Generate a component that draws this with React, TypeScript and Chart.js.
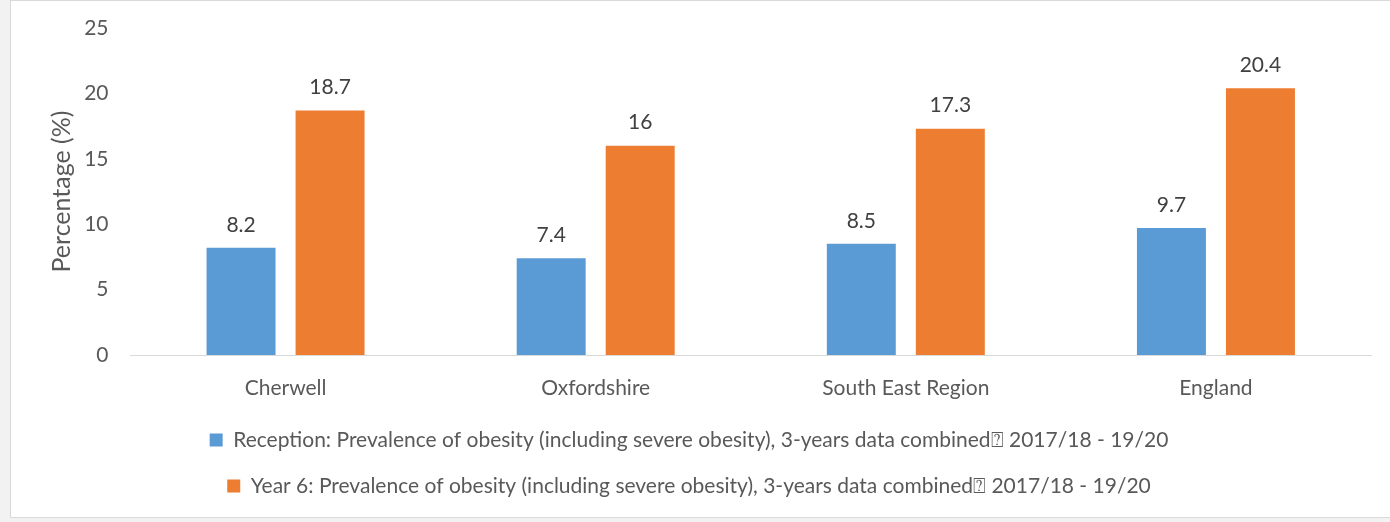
import React, { useEffect, useRef } from "react";
import { Chart, registerables } from "chart.js";

Chart.register(...registerables);

const categories = ["Cherwell", "Oxfordshire", "South East Region", "England"];
const receptionValues = [8.2, 7.4, 8.5, 9.7];
const year6Values = [18.7, 16, 17.3, 20.4];
const seriesNames = [
  "Reception: Prevalence of obesity (including severe obesity), 3-years data combined\u2370 2017/18 - 19/20",
  "Year 6: Prevalence of obesity (including severe obesity), 3-years data combined\u2370 2017/18 - 19/20",
];
const yTicks = [0, 5, 10, 15, 20, 25];

const FONT = "Lato, 'Open Sans', sans-serif";

const dataLabelPlugin = {
  id: "dataLabels",
  afterLayout(chart: any) {
    if (chart.legend) {
      chart.legend.left -= 20;
      chart.legend.right -= 20;
    }
  },
  afterDatasetsDraw(chart: any) {
    const ctx = chart.ctx;
    ctx.save();
    ctx.font = `21px ${FONT}`;
    ctx.fillStyle = "#404040";
    ctx.textAlign = "center";
    ctx.textBaseline = "middle";
    chart.data.datasets.forEach((ds: any, i: number) => {
      const meta = chart.getDatasetMeta(i);
      meta.data.forEach((el: any, j: number) => {
        ctx.fillText(String(ds.data[j]), el.x, el.y - 23);
      });
    });
    ctx.restore();
  },
};

export default function App() {
  const ref = useRef<HTMLCanvasElement>(null);
  useEffect(() => {
    if (!ref.current) return;
    const chart = new Chart(ref.current, {
      type: "bar",
      data: {
        labels: categories,
        datasets: [
          {
            label: seriesNames[0],
            data: receptionValues,
            backgroundColor: "#5B9BD5",
            categoryPercentage: 0.574,
            barPercentage: 0.775,
          },
          {
            label: seriesNames[1],
            data: year6Values,
            backgroundColor: "#ED7D31",
            categoryPercentage: 0.574,
            barPercentage: 0.775,
          },
        ],
      },
      options: {
        animation: false,
        responsive: true,
        maintainAspectRatio: false,
        devicePixelRatio: 1,
        layout: { padding: { left: 36, right: 20, top: 27, bottom: 10.5 } },
        plugins: {
          tooltip: { enabled: false },
          legend: {
            position: "bottom",
            labels: {
              boxWidth: 13,
              boxHeight: 13,
              padding: 25,
              color: "#595959",
              font: { family: FONT, size: 21 },
            },
          },
        },
        scales: {
          x: {
            grid: { display: false },
            border: { display: true, color: "#d9d9d9", width: 1 },
            ticks: { color: "#595959", font: { family: FONT, size: 21 }, padding: 13 },
            afterFit: (axis: any) => {
              axis.height = 49.5;
            },
          },
          y: {
            min: 0,
            max: 25,
            afterBuildTicks: (axis: any) => {
              axis.ticks = yTicks.map((v) => ({ value: v }));
            },
            afterFit: (axis: any) => {
              axis.width = 83.5;
              axis.paddingTop = 0;
              axis.paddingBottom = 0;
            },
            grid: { display: false },
            border: { display: false },
            ticks: { color: "#595959", font: { family: FONT, size: 21 }, padding: 14 },
            title: {
              display: true,
              text: "Percentage (%)",
              color: "#595959",
              font: { family: FONT, size: 25 },
              padding: { top: 0, bottom: 0 },
            },
          },
        },
      },
      plugins: [dataLabelPlugin],
    });
    return () => chart.destroy();
  }, []);
  return (
    <div style={{ position: "fixed", inset: 0, background: "#f2f2f2" }}>
      <div
        style={{
          position: "absolute",
          left: 10,
          top: 0,
          width: 1390,
          height: 518,
          background: "#fff",
          border: "1px solid #d9d9d9",
          boxSizing: "border-box",
        }}
      >
        <div style={{ position: "absolute", left: 0, top: 0, width: 1380, height: 516 }}>
          <canvas ref={ref} />
        </div>
      </div>
    </div>
  );
}
